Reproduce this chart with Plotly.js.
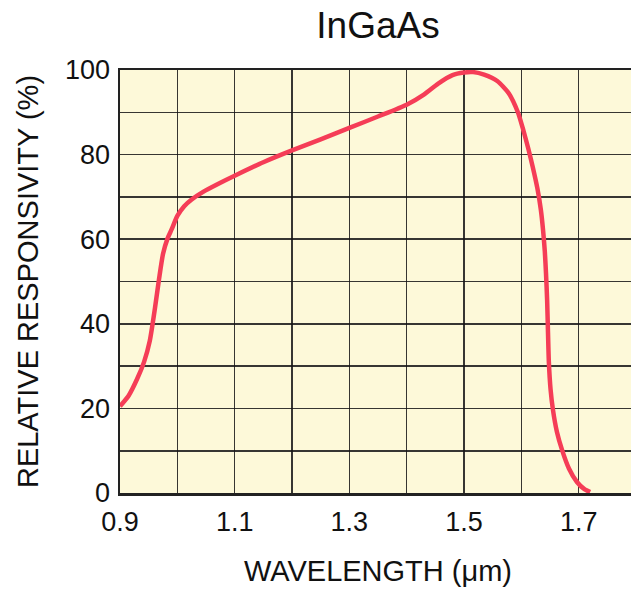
<!DOCTYPE html>
<html>
<head>
<meta charset="utf-8">
<script src="https://cdn.plot.ly/plotly-3.0.1.min.js"></script>
<style>
html, body { margin: 0; padding: 0; overflow: hidden; background: #fff; }
#chart { width: 640px; height: 590px; }
</style>
</head>
<body>
<div id="chart"></div>
<script>
// Wavelength (µm)
const wavelength = [0.900, 0.915, 0.930, 0.942, 0.952, 0.961, 0.968, 0.975, 0.983, 0.990, 1.000, 1.012, 1.025, 1.045, 1.070, 1.100, 1.150, 1.200, 1.250, 1.300, 1.350, 1.400, 1.430, 1.455, 1.480, 1.500, 1.516, 1.535, 1.558, 1.578, 1.594, 1.603, 1.612, 1.620, 1.628, 1.634, 1.638, 1.641, 1.643, 1.645, 1.6465, 1.648, 1.651, 1.655, 1.662, 1.671, 1.683, 1.697, 1.710, 1.720];
// Relative responsivity (%)
const responsivity = [20.5, 23.0, 27.0, 31.0, 36.0, 43.7, 50.5, 56.5, 60.2, 62.3, 65.5, 67.8, 69.4, 71.2, 73.0, 75.0, 78.2, 81.0, 83.6, 86.3, 89.0, 91.8, 94.2, 96.8, 98.8, 99.4, 99.5, 98.9, 97.4, 94.5, 90.0, 86.0, 81.5, 77.0, 72.0, 67.0, 62.0, 57.0, 52.0, 45.6, 38.0, 31.0, 24.5, 19.8, 14.5, 10.2, 5.8, 2.6, 0.9, 0.2];

const xTickVals = [0.9, 1.1, 1.3, 1.5, 1.7];
const xTickText = ["0.9", "1.1", "1.3", "1.5", "1.7"];
const yTickVals = [0, 20, 40, 60, 80, 100];
const yTickText = ["0", "20", "40", "60", "80", "100"];

const FONT = "Liberation Sans, Arial, Helvetica, sans-serif";
const GRID = "rgba(20,20,20,0.85)";

const trace = {
  x: wavelength,
  y: responsivity,
  type: "scatter",
  mode: "lines",
  line: { color: "#f53d57", width: 4.5, shape: "spline", smoothing: 0.6 },
  hoverinfo: "skip"
};

const layout = {
  width: 640,
  height: 590,
  margin: { l: 120, r: 4, t: 70, b: 97 },
  paper_bgcolor: "#ffffff",
  plot_bgcolor: "#fdf9d9",
  showlegend: false,
  font: { family: FONT, color: "#111" },
  title: {
    text: "InGaAs",
    font: { family: FONT, size: 37, color: "#111" },
    xref: "paper", x: 0.5, xanchor: "center",
    yref: "container", y: 1 - 25 / 590, yanchor: "middle"
  },
  xaxis: {
    range: [0.9, 1.8],
    tickmode: "array",
    tickvals: xTickVals,
    ticktext: xTickText,
    ticks: "outside", ticklen: 3, tickcolor: "rgba(0,0,0,0)",
    tickfont: { family: FONT, size: 27, color: "#111" },
    showgrid: true, gridcolor: GRID, gridwidth: 1.6,
    minor: { tickvals: [1.0, 1.2, 1.4, 1.6, 1.8], showgrid: true, gridcolor: GRID, gridwidth: 1.6, ticks: "" },
    showline: true, linecolor: "#222", linewidth: 2.5, mirror: true,
    zeroline: false,
    fixedrange: true,
    title: { text: "WAVELENGTH (μm)", font: { family: FONT, size: 29, color: "#111" }, standoff: 25 }
  },
  yaxis: {
    range: [0, 100],
    tickmode: "array",
    tickvals: yTickVals,
    ticktext: yTickText,
    ticks: "outside", ticklen: 2, tickcolor: "rgba(0,0,0,0)",
    tickfont: { family: FONT, size: 27, color: "#111" },
    showgrid: true, gridcolor: GRID, gridwidth: 1.6,
    minor: { tickvals: [10, 30, 50, 70, 90], showgrid: true, gridcolor: GRID, gridwidth: 1.6, ticks: "" },
    showline: true, linecolor: "#222", linewidth: 2.5, mirror: true,
    zeroline: false,
    fixedrange: true,
    title: { text: "RELATIVE RESPONSIVITY (%)", font: { family: FONT, size: 29, color: "#111" }, standoff: 18 }
  }
};

Plotly.newPlot("chart", [trace], layout, { displayModeBar: false, staticPlot: true });
</script>
</body>
</html>
